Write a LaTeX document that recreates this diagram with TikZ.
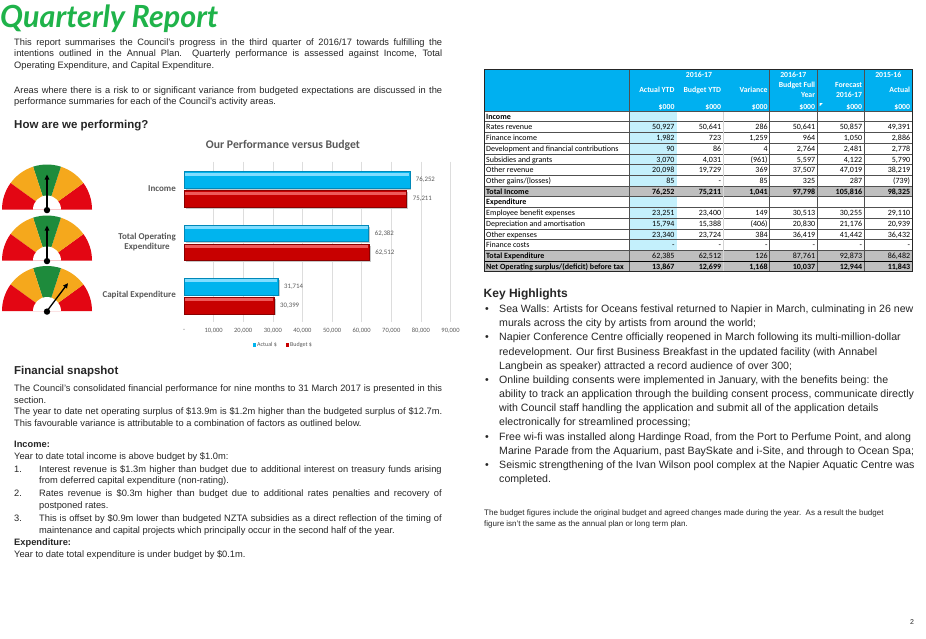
\documentclass[tikz,border=0pt]{standalone}
\usepackage{fontspec}
\setmainfont{Liberation Sans}
\newfontfamily\calib{Carlito}
\newfontfamily\ttlfont{Lato}
\usetikzlibrary{arrows.meta}
\definecolor{ttlgreen}{HTML}{1FB34A}
\definecolor{txt}{HTML}{262626}
\definecolor{chartgray}{HTML}{595959}
\definecolor{gridgray}{HTML}{DDDDDD}
\definecolor{barcyan}{HTML}{00B4EE}
\definecolor{barcyanlt}{HTML}{80DDFF}
\definecolor{barcyandk}{HTML}{0088B8}
\definecolor{barred}{HTML}{C80000}
\definecolor{barredlt}{HTML}{EE5A5A}
\definecolor{barreddk}{HTML}{8A0000}
\definecolor{gred}{HTML}{E30613}
\definecolor{gorange}{HTML}{F5A81C}
\definecolor{ggreen}{HTML}{1E8B3C}
\definecolor{hdrcyan}{HTML}{00B0F0}
\definecolor{colcyan}{HTML}{C4F0FC}
\definecolor{rowgray}{HTML}{BFBFBF}
\definecolor{tline}{HTML}{505050}
\definecolor{tlight}{HTML}{D4D4D4}
\newcommand\jl[2]{\makebox[#1pt][s]{#2}}
\newcommand\nf{}
\newcommand\trow[8]{%
  \pgfmathsetmacro\rb{113.8+(#1-0.5)*10.714}%
  \node[tlab] (r#1l) at (486,\rb) {#2};
  \node[tnum] (r#1a) at (674.7,\rb) {\nf #3};
  \node[tnum] (r#1b) at (721.3,\rb) {\nf #4};
  \node[tnum] (r#1c) at (767.8,\rb) {\nf #5};
  \node[tnum] (r#1d) at (815.3,\rb) {\nf #6};
  \node[tnum] (r#1e) at (862.3,\rb) {\nf #7};
  \node[tnum] (r#1f) at (910.3,\rb) {\nf #8};
}
\newcommand\gauge[3]{%
\begin{scope}[shift={(#1,#2)},yscale=-1]
  \fill[gred] (0,0) -- (0:45) arc[start angle=0,end angle=36,radius=45] -- cycle;
  \fill[gorange] (0,0) -- (36:45) arc[start angle=36,end angle=72,radius=45] -- cycle;
  \fill[ggreen] (0,0) -- (72:45) arc[start angle=72,end angle=108,radius=45] -- cycle;
  \fill[gorange] (0,0) -- (108:45) arc[start angle=108,end angle=144,radius=45] -- cycle;
  \fill[gred] (0,0) -- (144:45) arc[start angle=144,end angle=180,radius=45] -- cycle;
  \fill[white] (14,0) arc[start angle=0,end angle=180,radius=14] -- cycle;
  \draw[line width=1.3pt,-{Triangle[length=5pt,width=4.5pt]}] (0,0) -- (#3:35);
  \fill (0,-0.6) circle (3.2);
\end{scope}}
\newcommand\cbar[7]{%
  \pgfmathsetmacro\xe{184+#2*2.9611}%
  \fill[black!22] (185.5,#1+1.6) rectangle (\xe+1.6,#1+18);
  \fill[#3] (184,#1) rectangle (\xe,#1+16.6);
  \fill[#4] (184,#1+0.9) rectangle (\xe-0.9,#1+4);
  \draw[#5,line width=0.5pt] (184,#1) rectangle (\xe,#1+16.6);
  \node[vlab] (#6) at (\xe+6,#1+8.3) {#7};
}
\begin{document}
\begin{tikzpicture}[x=1pt,y=-1pt,
  body/.style={anchor=base west,inner sep=0pt,font=\fontsize{9.3}{11.6}\selectfont,text=txt},
  bodyb/.style={anchor=base west,inner sep=0pt,font=\fontsize{9.3}{11.6}\selectfont\bfseries,text=txt},
  sechead/.style={anchor=base west,inner sep=0pt,font=\fontsize{11.5}{13}\selectfont\bfseries,text=txt},
  kh/.style={anchor=base west,inner sep=0pt,font=\fontsize{10.6}{14}\selectfont,text=txt},
  foot/.style={anchor=base west,inner sep=0pt,font=\fontsize{8}{11}\selectfont,text=txt},
  ctitle/.style={inner sep=0pt,font=\calib\fontsize{11.7}{13}\selectfont\bfseries,text=chartgray},
  cat/.style={inner sep=0pt,font=\calib\fontsize{9}{10.6}\selectfont\bfseries,text=chartgray},
  vlab/.style={anchor=west,inner sep=0pt,font=\calib\fontsize{6.8}{8}\selectfont,text=chartgray},
  axl/.style={inner sep=0pt,font=\calib\fontsize{6.5}{8}\selectfont,text=chartgray},
  legl/.style={anchor=west,inner sep=0pt,font=\calib\fontsize{6}{7}\selectfont,text=chartgray},
  tlab/.style={anchor=base west,inner sep=0pt,font=\calib\fontsize{8}{9}\selectfont,text=black},
  tnum/.style={anchor=base east,inner sep=0pt,font=\calib\fontsize{8}{9}\selectfont,text=black},
  thd/.style={anchor=base east,inner sep=0pt,font=\calib\fontsize{7.8}{9}\selectfont\bfseries,text=white},
  thdc/.style={anchor=base,inner sep=0pt,font=\calib\fontsize{7.8}{9}\selectfont\bfseries,text=white}
]
\useasboundingbox[fill=white] (0,0) rectangle (926,638);

% ---------- title and intro ----------
\node[anchor=base west,inner sep=0pt,font=\ttlfont\fontsize{30.5}{32}\selectfont\bfseries\itshape,text=ttlgreen] (title) at (0,27) {Quarterly Report};

\node[body] (i1) at (14,45.3) {\jl{428}{This report summarises the Council's progress in the third quarter of 2016/17 towards fulfilling the}};
\node[body] (i2) at (14,56.9) {\jl{428}{intentions outlined in the Annual Plan.\ \ Quarterly performance is assessed against Income, Total}};
\node[body] (i3) at (14,68.5) {Operating Expenditure, and Capital Expenditure.};
\node[body] (i4) at (14,93) {\jl{428}{Areas where there is a risk to or significant variance from budgeted expectations are discussed in the}};
\node[body] (i5) at (14,104.6) {performance summaries for each of the Council's activity areas.};
\node[sechead] (h1) at (14,128.2) {How are we performing?};

% ---------- gauges ----------
\gauge{47}{209.5}{90}
\gauge{47}{260.5}{90}
\gauge{47}{311}{53}

% ---------- chart ----------
\node[ctitle] (ct) at (283,145) {Our Performance versus Budget};
\foreach \k in {1,...,9} {
  \draw[gridgray,line width=0.6pt] ({184+\k*29.611},161.5) -- ({184+\k*29.611},322);
  \node[axl] (ax\k) at ({184+\k*29.611},330.5) {\k0,000};
}
\node[axl] (ax0) at (184,330.5) {-};
\cbar{171.7}{76.252}{barcyan}{barcyanlt}{barcyandk}{v1}{76,252}
\cbar{190.7}{75.211}{barred}{barredlt}{barreddk}{v2}{75,211}
\cbar{225}{62.382}{barcyan}{barcyanlt}{barcyandk}{v3}{62,382}
\cbar{244}{62.512}{barred}{barredlt}{barreddk}{v4}{62,512}
\cbar{278.3}{31.714}{barcyan}{barcyanlt}{barcyandk}{v5}{31,714}
\cbar{297.3}{30.399}{barred}{barredlt}{barreddk}{v6}{30,399}
\node[cat,anchor=east] (cInc) at (176,189) {Income};
\node[cat,anchor=east,align=center] (cToe) at (176,242) {Total Operating\\Expenditure};
\node[cat,anchor=east] (cCap) at (176,295.5) {Capital Expenditure};
\fill[barcyan] (252.6,342.8) rectangle (256.4,346.6);
\node[legl] (lg1) at (257,344.8) {Actual \$};
\fill[barred] (285.6,342.8) rectangle (289.4,346.6);
\node[legl] (lg2) at (290,344.8) {Budget \$};

% ---------- financial snapshot ----------
\node[sechead] (h2) at (14,374.6) {Financial snapshot};
\node[body] (s1) at (14,391.3) {\jl{428}{The Council's consolidated financial performance for nine months to 31 March 2017 is presented in this}};
\node[body] (s2) at (14,403) {section.};
\node[body] (s3) at (14,414.7) {\jl{428}{The year to date net operating surplus of \$13.9m is \$1.2m higher than the budgeted surplus of \$12.7m.}};
\node[body] (s4) at (14,426.4) {This favourable variance is attributable to a combination of factors as outlined below.};
\node[bodyb] (s5) at (14,447.3) {Income:};
\node[body] (s6) at (14,459.6) {Year to date total income is above budget by \$1.0m:};
\node[body] (n1) at (14,472) {1.};
\node[body] (s7) at (39,472) {\jl{402.5}{Interest revenue is \$1.3m higher than budget due to additional interest on treasury funds arising}};
\node[body] (s8) at (39,483.8) {from deferred capital expenditure (non-rating).};
\node[body] (n2) at (14,496.4) {2.};
\node[body] (s9) at (39,496.4) {\jl{402.5}{Rates revenue is \$0.3m higher than budget due to additional rates penalties and recovery of}};
\node[body] (s10) at (39,508.2) {postponed rates.};
\node[body] (n3) at (14,521) {3.};
\node[body] (s11) at (39,521) {\jl{402.5}{This is offset by \$0.9m lower than budgeted NZTA subsidies as a direct reflection of the timing of}};
\node[body] (s12) at (39,533) {maintenance and capital projects which principally occur in the second half of the year.};
\node[bodyb] (s13) at (14,545.3) {Expenditure:};
\node[body] (s14) at (14,557.8) {Year to date total expenditure is under budget by \$0.1m.};

% ---------- table ----------
\fill[hdrcyan] (484,69.3) rectangle (912.3,111);
\fill[colcyan] (629,111) rectangle (676.7,186);
\fill[colcyan] (629,196.7) rectangle (676.7,250.3);
\fill[rowgray] (484,186) rectangle (912.3,196.7);
\fill[rowgray] (484,250.3) rectangle (912.3,271.7);
\foreach \i in {1,...,14} \draw[tline,line width=0.45pt] (484,{111+\i*10.714}) -- (912.3,{111+\i*10.714});
\draw[tlight,line width=1.3pt] (723.3,111.3) -- (723.3,271.4);
\foreach \cx in {629,769.3,817.3,864.3} \draw[tline,line width=0.6pt] (\cx,69.3) -- (\cx,271.7);
\draw[tline,line width=0.7pt] (484,111) -- (912.3,111);
\draw[black,line width=1pt] (484,261) -- (912.3,261);
\draw[black!85,line width=0.9pt] (484,69.3) rectangle (912.3,271.7);
\fill[white] (819.6,103.2) -- (822.6,103.2) -- (819.6,106.2) -- cycle;

\node[thdc] (th1) at (699,77) {2016-17};
\node[thdc] (th2) at (793.3,77) {2016-17};
\node[thdc] (th3) at (888.3,77) {2015-16};
\node[thd] (th4) at (674.7,92.6) {Actual YTD};
\node[thd] (th5) at (721.3,92.6) {Budget YTD};
\node[thd] (th6) at (767.8,92.6) {Variance};
\node[thd] (th7) at (815.3,87.6) {Budget Full};
\node[thd] (th8) at (815.3,97.6) {Year};
\node[thd] (th9) at (862.3,87.6) {Forecast};
\node[thd] (th10) at (862.3,97.6) {2016-17};
\node[thd] (th11) at (910.3,92.6) {Actual};
\foreach \cx/\nm in {674.7/a,721.3/b,767.8/c,815.3/d,862.3/e,910.3/f}
  \node[thd] (tu\nm) at (\cx,109) {\$000};

\node[tlab] (r1l) at (486,119.2) {\bfseries Income};
\trow{2}{Rates revenue}{50,927}{50,641}{286}{50,641}{50,857}{49,391}
\trow{3}{Finance income}{1,982}{723}{1,259}{964}{1,050}{2,886}
\trow{4}{Development and financial contributions}{90}{86}{4}{2,764}{2,481}{2,778}
\trow{5}{Subsidies and grants}{3,070}{4,031}{(961)}{5,597}{4,122}{5,790}
\trow{6}{Other revenue}{20,098}{19,729}{369}{37,507}{47,019}{38,219}
\trow{7}{Other gains/(losses)}{85}{-}{85}{325}{287}{(739)}
\renewcommand\nf{\bfseries}
\trow{8}{\bfseries Total Income}{76,252}{75,211}{1,041}{97,798}{105,816}{98,325}
\renewcommand\nf{}
\node[tlab] (r9l) at (486,204.9) {\bfseries Expenditure};
\trow{10}{Employee benefit expenses}{23,251}{23,400}{149}{30,513}{30,255}{29,110}
\trow{11}{Depreciation and amortisation}{15,794}{15,388}{(406)}{20,830}{21,176}{20,939}
\trow{12}{Other expenses}{23,340}{23,724}{384}{36,419}{41,442}{36,432}
\trow{13}{Finance costs}{-}{-}{-}{-}{-}{-}
\trow{14}{\bfseries Total Expenditure}{62,385}{62,512}{126}{87,761}{92,873}{86,482}
\renewcommand\nf{\bfseries}
\trow{15}{\bfseries Net Operating surplus/(deficit) before tax}{13,867}{12,699}{1,168}{10,037}{12,944}{11,843}
\renewcommand\nf{}

% ---------- key highlights ----------
\node[anchor=base west,inner sep=0pt,font=\fontsize{12}{14}\selectfont\bfseries,text=txt] (h3) at (483.5,297.5) {Key Highlights};
\node[kh] (b1) at (485,312.6) {•};
\node[kh] (k1) at (499,312.6) {Sea Walls: Artists for Oceans festival returned to Napier in March, culminating in 26 new};
\node[kh] (k2) at (499,326.8) {murals across the city by artists from around the world;};
\node[kh] (b2) at (485,340.9) {•};
\node[kh] (k3) at (499,340.9) {Napier Conference Centre officially reopened in March following its multi-million-dollar};
\node[kh] (k4) at (499,355.1) {redevelopment. Our first Business Breakfast in the updated facility (with Annabel};
\node[kh] (k5) at (499,369.3) {Langbein as speaker) attracted a record audience of over 300;};
\node[kh] (b3) at (485,383.4) {•};
\node[kh] (k6) at (499,383.4) {Online building consents were implemented in January, with the benefits being: the};
\node[kh] (k7) at (499,397.6) {ability to track an application through the building consent process, communicate directly};
\node[kh] (k8) at (499,411.8) {with Council staff handling the application and submit all of the application details};
\node[kh] (k9) at (499,425.9) {electronically for streamlined processing;};
\node[kh] (b4) at (485,440.1) {•};
\node[kh] (k10) at (499,440.1) {Free wi-fi was installed along Hardinge Road, from the Port to Perfume Point, and along};
\node[kh] (k11) at (499,454.3) {Marine Parade from the Aquarium, past BaySkate and i-Site, and through to Ocean Spa;};
\node[kh] (b5) at (485,468.4) {•};
\node[kh] (k12) at (499,468.4) {Seismic strengthening of the Ivan Wilson pool complex at the Napier Aquatic Centre was};
\node[kh] (k13) at (499,482.6) {completed.};

\node[foot] (f1) at (484,515.6) {The budget figures include the original budget and agreed changes made during the year.\ \ As a result the budget};
\node[foot] (f2) at (484,526.6) {figure isn't the same as the annual plan or long term plan.};

\node[inner sep=0pt,font=\fontsize{7}{8}\selectfont,text=txt] (pg) at (912,622) {2};
\end{tikzpicture}
\end{document}
